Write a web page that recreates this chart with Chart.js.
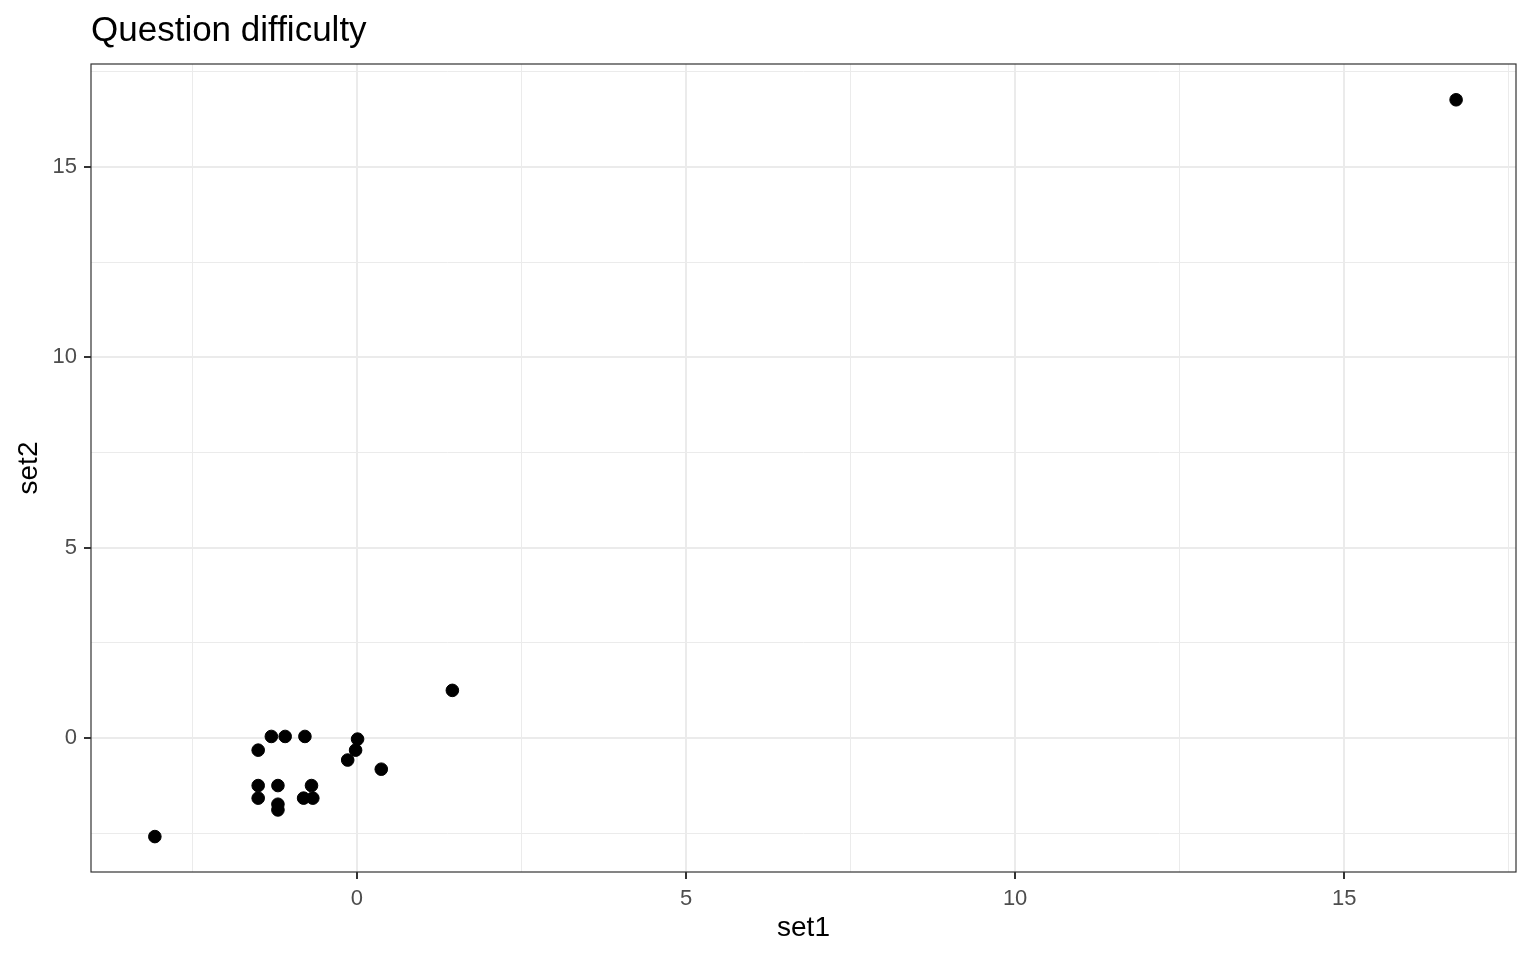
<!DOCTYPE html>
<html>
<head>
<meta charset="utf-8">
<script src="https://cdn.jsdelivr.net/npm/chart.js@4/dist/chart.umd.min.js"></script>
<style>
  body { margin: 0; background: #fff; }
  #wrap { width: 1536px; height: 960px; position: relative; }
</style>
</head>
<body>
<div id="wrap"><canvas id="scatter"></canvas></div>
<script>
// values
var set1 = [-3.07, -1.50, -1.30, -1.09, -0.79, 0.01, -0.02, -0.14, 0.37, 1.45,
            -1.50, -1.20, -0.69, -1.50, -1.20, -1.20, -0.81, -0.67, 16.70];
var set2 = [-2.59, -0.32, 0.04, 0.04, 0.04, -0.03, -0.32, -0.58, -0.82, 1.25,
            -1.25, -1.25, -1.25, -1.58, -1.74, -1.89, -1.58, -1.58, 16.76];
var xTicks = [-2.5, 0, 2.5, 5, 7.5, 10, 12.5, 15, 17.5];
var yTicks = [-2.5, 0, 2.5, 5, 7.5, 10, 12.5, 15, 17.5];
var xRange = [-4.04, 17.61];
var yRange = [-3.52, 17.70];

var FONT = '"Liberation Sans", Arial, sans-serif';

function isMajor(ctx) {
    return ctx.tick && ctx.tick.value % 5 === 0;
}

var points = set1.map(function (x, i) { return { x: x, y: set2[i] }; });

// panel border + plot title (ggplot style)
var panelPlugin = {
    id: 'panel',
    afterDraw: function (chart) {
        var c = chart.ctx, a = chart.chartArea;
        c.save();
        c.strokeStyle = '#333333';
        c.lineWidth = 1.2;
        c.strokeRect(a.left, a.top, a.right - a.left, a.bottom - a.top);
        c.fillStyle = '#000';
        c.font = '35px ' + FONT;
        c.textBaseline = 'alphabetic';
        c.textAlign = 'left';
        c.fillText('Question difficulty', a.left, 41);
        c.restore();
    }
};

function scaleOpts(ticks, range, title, isX) {
    return {
        type: 'linear',
        min: range[0],
        max: range[1],
        afterBuildTicks: function (s) {
            s.ticks = ticks.map(function (v) { return { value: v }; });
        },
        afterFit: function (s) {
            if (isX) s.height = 88; else s.width = 91;
        },
        ticks: {
            autoSkip: false,
            maxRotation: 0,
            padding: 7,
            color: '#4d4d4d',
            font: { size: 22, family: FONT },
            callback: function (v) { return v % 5 === 0 ? String(v) : ''; }
        },
        grid: {
            color: '#ebebeb',
            lineWidth: function (ctx) { return isMajor(ctx) ? 2 : 1; },
            tickLength: 7,
            tickWidth: 2,
            tickColor: function (ctx) { return isMajor(ctx) ? '#333333' : 'rgba(0,0,0,0)'; }
        },
        border: { display: false },
        title: {
            display: true,
            text: title,
            color: '#000',
            font: { size: 28, family: FONT },
            padding: isX ? 15 : 12
        }
    };
}

var ctx = document.getElementById('scatter').getContext('2d');
var graphic = new Chart(ctx, {
    type: 'scatter',
    data: {
        datasets: [{
            label: 'Question difficulty',
            data: points,
            backgroundColor: '#000',
            borderColor: '#000',
            pointRadius: 6.3,
            pointHoverRadius: 6.3
        }]
    },
    options: {
        responsive: true,
        maintainAspectRatio: false,
        animation: false,
        layout: { padding: { top: 64, right: 20, left: 0, bottom: 0 } },
        plugins: {
            legend: { display: false },
            tooltip: { enabled: false }
        },
        scales: {
            x: scaleOpts(xTicks, xRange, 'set1', true),
            y: scaleOpts(yTicks, yRange, 'set2', false)
        }
    },
    plugins: [panelPlugin]
});
</script>
</body>
</html>
